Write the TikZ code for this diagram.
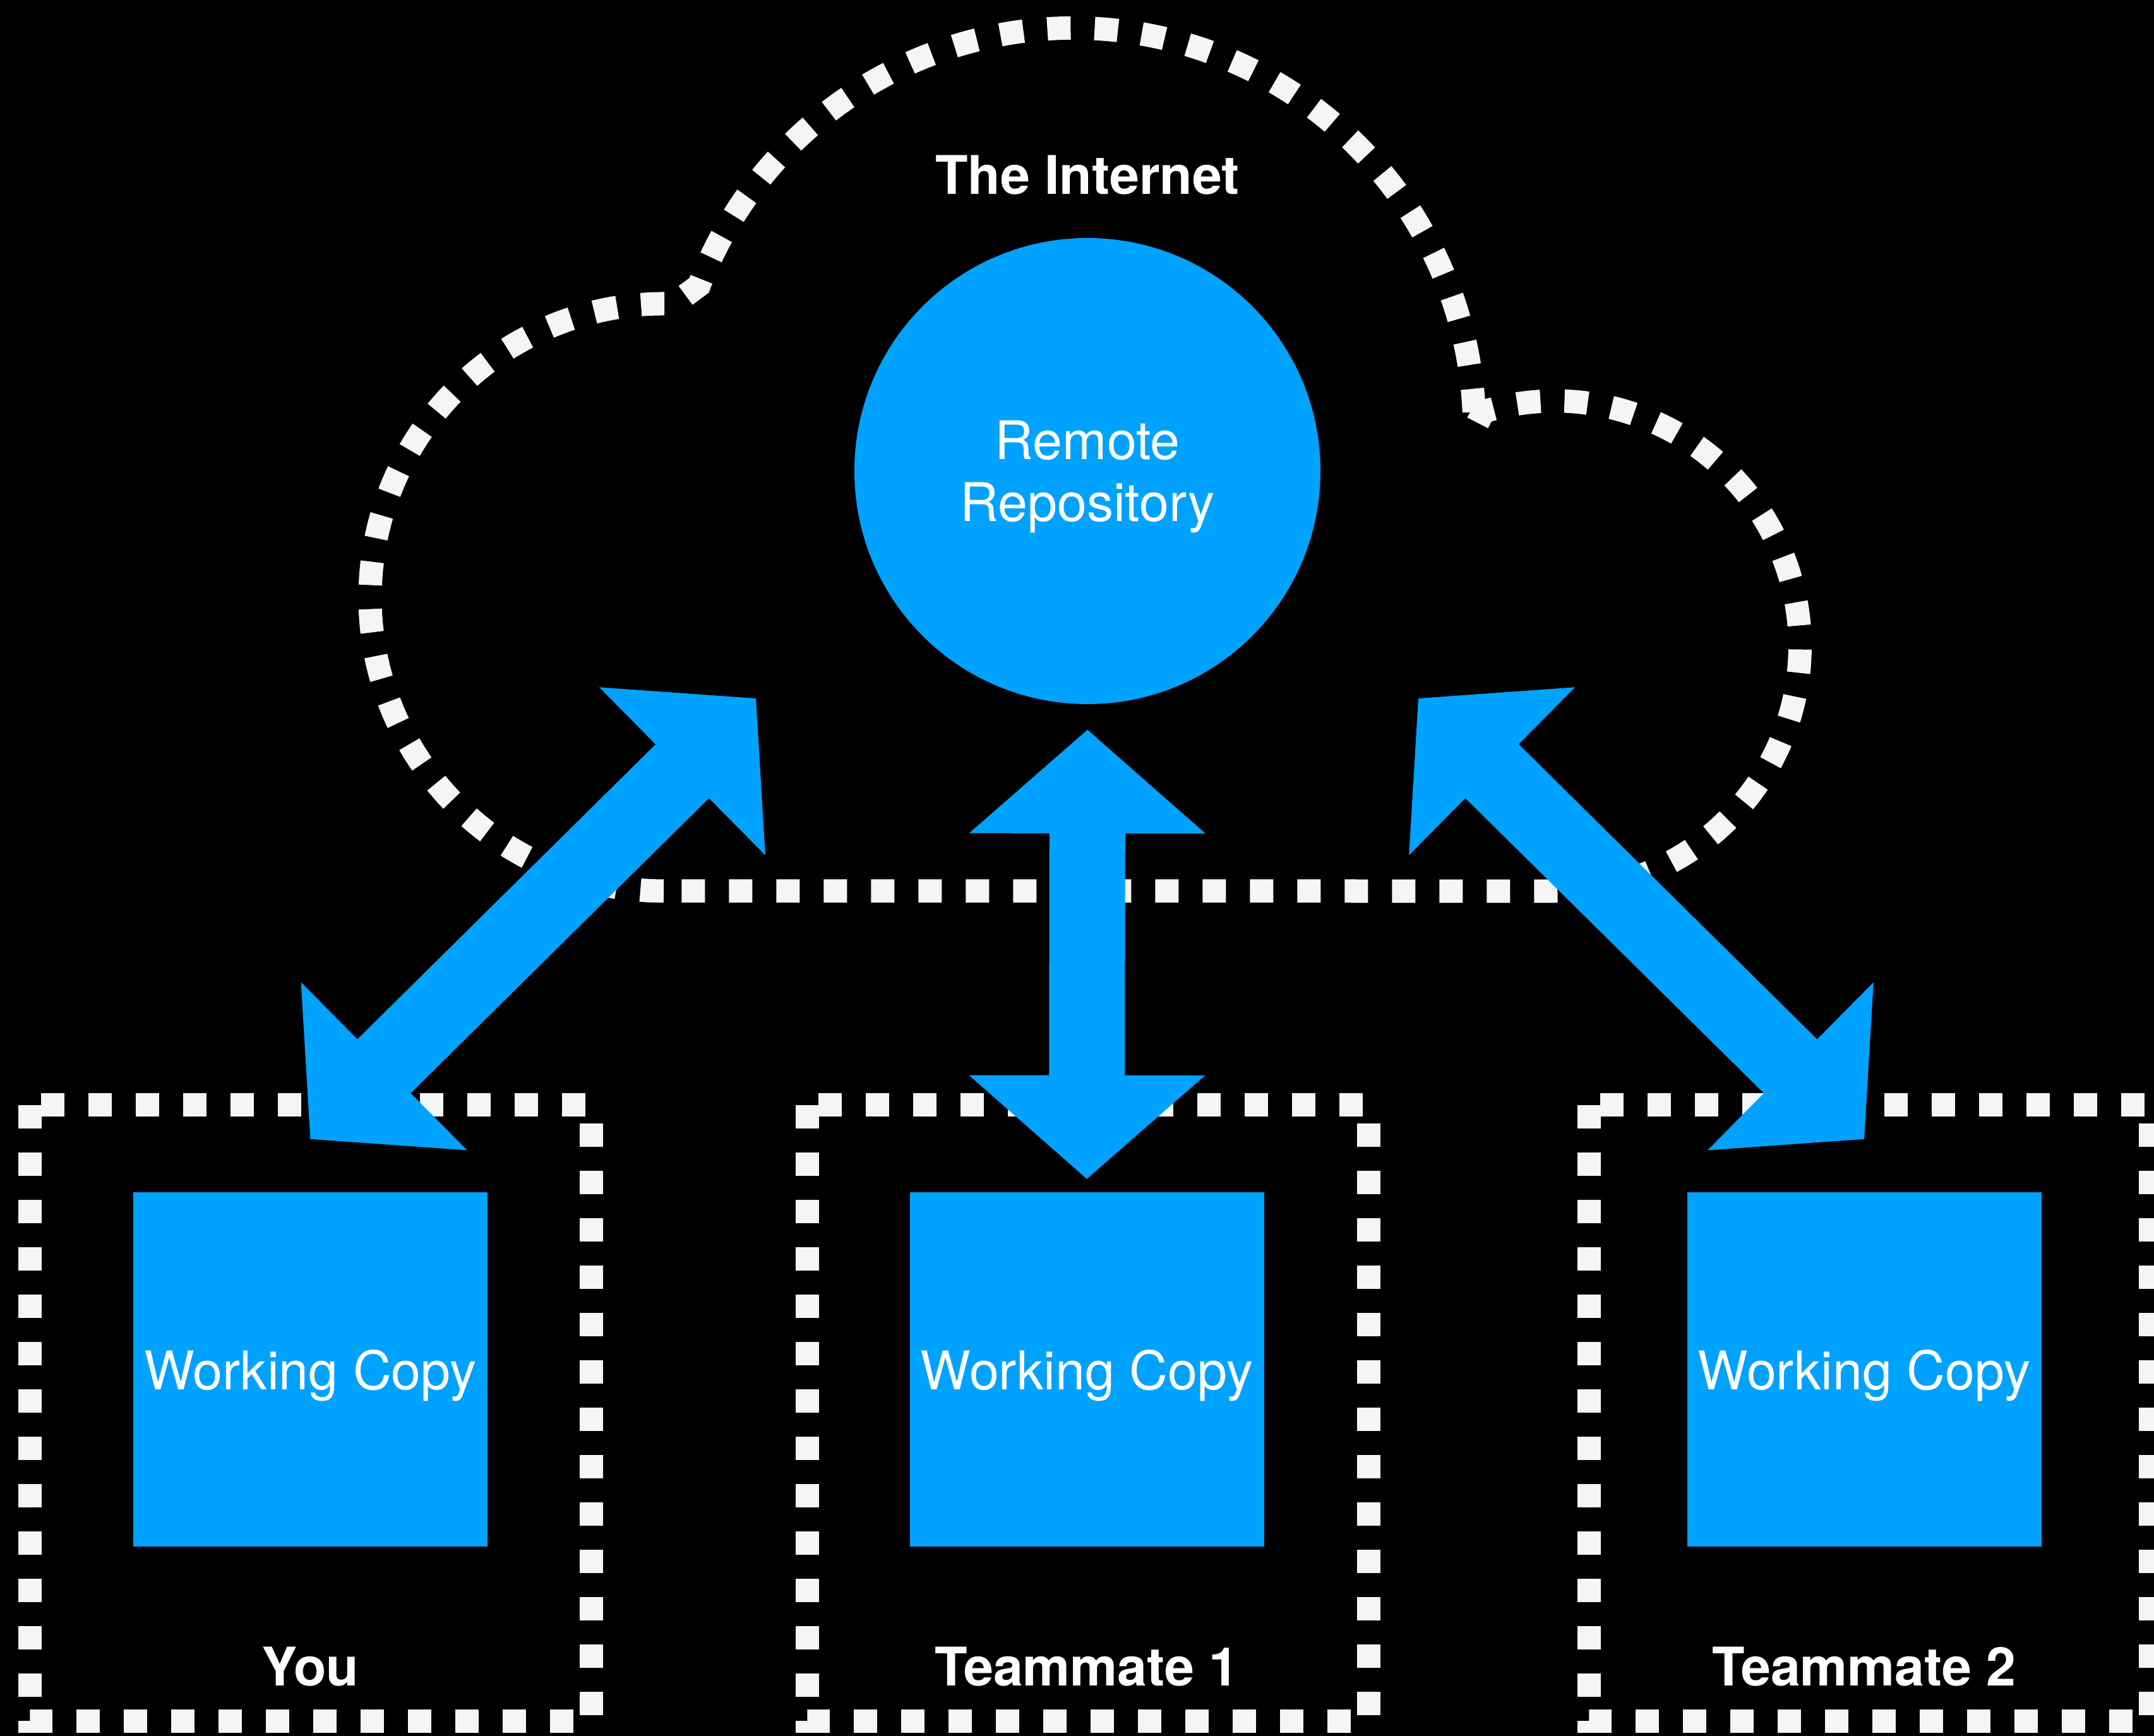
\documentclass[tikz,border=0pt]{standalone}
\usepackage{fontspec}
\setmainfont{TeX Gyre Heros}
\usepackage{xcolor}
\usetikzlibrary{calc,positioning}

\definecolor{gitblue}{RGB}{0,162,255}
\definecolor{chalk}{RGB}{243,246,245}

\newcommand{\synchead}{1.64cm}
\newcommand{\syncwing}{1.87cm}
\newcommand{\syncshaft}{0.60cm}

\begin{document}
\begin{tikzpicture}[
    dotline/.style={draw=chalk, line width=3.7mm, dash pattern=on 3.7mm off 3.8mm},
    workcopy/.style={rectangle, fill=gitblue, text=white, minimum size=5.61cm, inner sep=0pt, text depth=0pt, font=\fontsize{24}{28}\selectfont},
    who/.style={anchor=base, text=white, inner sep=0pt, font=\fontsize{24}{29}\selectfont\bfseries},
    syncarrow/.style={fill=gitblue, to path={
        -- ($(\tikztostart)!\synchead!(\tikztotarget)!\syncwing!90:(\tikztotarget)$)
        -- ($(\tikztostart)!\synchead!(\tikztotarget)!\syncshaft!90:(\tikztotarget)$)
        -- ($(\tikztotarget)!\synchead!(\tikztostart)!\syncshaft!-90:(\tikztostart)$)
        -- ($(\tikztotarget)!\synchead!(\tikztostart)!\syncwing!-90:(\tikztostart)$)
        -- (\tikztotarget)
        -- ($(\tikztotarget)!\synchead!(\tikztostart)!\syncwing!90:(\tikztostart)$)
        -- ($(\tikztotarget)!\synchead!(\tikztostart)!\syncshaft!90:(\tikztostart)$)
        -- ($(\tikztostart)!\synchead!(\tikztotarget)!\syncshaft!-90:(\tikztotarget)$)
        -- ($(\tikztostart)!\synchead!(\tikztotarget)!\syncwing!-90:(\tikztotarget)$)
        -- cycle}}
  ]
        \useasboundingbox (0,0) rectangle (34.11,27.49);
        \fill[black] (0,0) rectangle (34.11,27.49);

        \draw[dotline] (10.51,13.38) arc[start angle=270, end angle=88, radius=4.65] -- (11.07,22.97)
            arc[start angle=159, end angle=0, radius=6.35] -- (23.49,20.97)
            arc[start angle=107, end angle=-90, radius=3.88] -- cycle;
        \node[who] (internet) at (17.22,24.41) {The Internet};
        \node[circle, fill=gitblue, text=white, minimum size=7.38cm, inner sep=0pt, align=center, text depth=0pt, font=\fontsize{24}{28}\selectfont] (repo) at (17.22,20.03) {Remote\\Repository};

        \draw[dotline] (0.47,9.99) rectangle (9.36,0.23);
        \draw[dotline] (12.78,9.99) rectangle (21.67,0.23);
        \draw[dotline] (25.16,9.99) rectangle (34.05,0.23);
        \node[workcopy] (wcYou) at (4.915,5.80) {Working Copy};
        \node[workcopy] (wcMate1) at (17.21,5.80) {Working Copy};
        \node[workcopy] (wcMate2) at (29.52,5.80) {Working Copy};
        \node[who] (you) at (4.915,0.79) {You};
        \node[who] (mate1) at (17.21,0.79) {Teammate 1};
        \node[who] (mate2) at (29.52,0.79) {Teammate 2};

        \coordinate[below=4mm of repo] (repoEnd);
        \coordinate[above=2.1mm of wcMate1] (mate1End);
        \coordinate[above=8.4mm of wcYou] (youEnd);
        \coordinate[above=8.4mm of wcMate2] (mate2End);
        \coordinate (youFar) at (11.97,16.43);
        \coordinate (mate2Far) at (22.46,16.43);
        \path[syncarrow] (repoEnd) to (mate1End);
        \path[syncarrow] (youFar) to (youEnd);
        \path[syncarrow] (mate2Far) to (mate2End);
    \end{tikzpicture}
\end{document}
